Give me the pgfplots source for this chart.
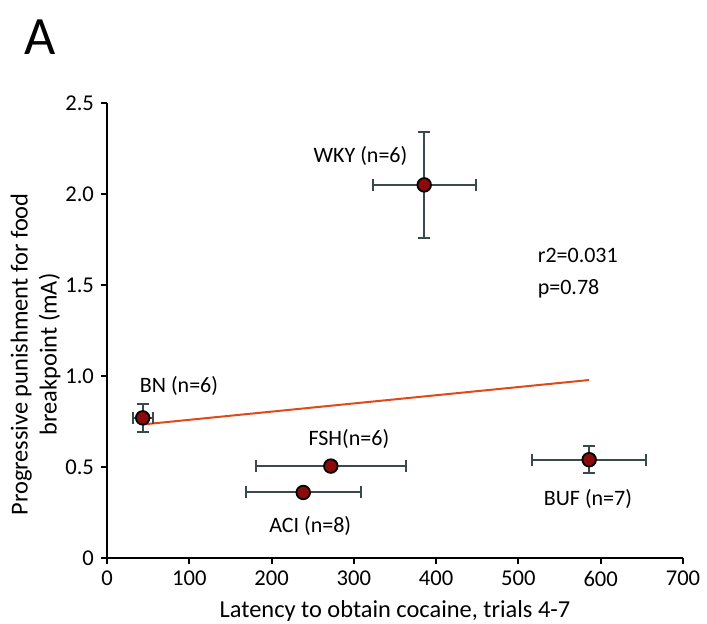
\documentclass[border=0pt]{standalone}
\usepackage{fontspec}
\setmainfont{Carlito}
\usepackage{pgfplots}
\pgfplotsset{compat=1.18}
\definecolor{ptred}{HTML}{8B0A0A}
\definecolor{errc}{HTML}{3A4A4A}
\definecolor{fitc}{HTML}{E04A1A}
\begin{document}
\begin{tikzpicture}
\begin{axis}[
  scale only axis, width=288pt, height=227.5pt,
  xmin=0, xmax=700, ymin=0, ymax=2.5,
  axis lines=left, axis line style={-, line width=1pt},
  xtick={0,100,200,300,400,500,600,700},
  xticklabels={0,100,200,300,400,500,600,700},
  ytick={0,0.5,1,1.5,2,2.5},
  yticklabels={0,0.5,1.0,1.5,2.0,2.5},
  tick align=outside, major tick length=3pt,
  tick style={line width=1pt, black},
  ticklabel style={font=\fontsize{11.3}{13}\selectfont},
  xlabel={Latency to obtain cocaine, trials 4-7},
  ylabel={Progressive punishment for food\\breakpoint (mA)},
  ylabel style={align=center, xshift=-12pt, yshift=-4.5pt},
  label style={font=\fontsize{12.2}{14.5}\selectfont},
  clip=false,
]
\addplot[fitc, line width=1pt] coordinates {(44,0.734) (586,0.978)};
\addplot[only marks, mark=*, mark size=3.4pt,
  mark options={fill=ptred, draw=black, line width=0.9pt},
  error bars/.cd, x dir=both, x explicit, y dir=both, y explicit,
  error mark=|,
  error bar style={errc, line width=1pt},
  error mark options={errc, line width=1pt, mark size=3pt}]
  coordinates {
  (43.4,0.77) +- (12,0.077)
  (385.5,2.05) +- (62.6,0.29)
  (272,0.505) +- (91,0.02)
  (238.5,0.36) +- (69.6,0.02)
  (586,0.54) +- (69.4,0.075)
  };
\node[font=\fontsize{11}{13}\selectfont] at (axis cs:308,2.21) {WKY (n=6)};
\node[font=\fontsize{11}{13}\selectfont] at (axis cs:87.5,0.945) {BN (n=6)};
\node[font=\fontsize{11}{13}\selectfont] at (axis cs:294,0.654) {FSH(n=6)};
\node[font=\fontsize{11}{13}\selectfont] at (axis cs:247,0.176) {ACI (n=8)};
\node[font=\fontsize{11}{13}\selectfont] at (axis cs:584.5,0.324) {BUF (n=7)};
\node[font=\fontsize{11}{13}\selectfont, anchor=west] at (axis cs:515,1.665) {r2=0.031};
\node[font=\fontsize{11}{13}\selectfont, anchor=west] at (axis cs:515,1.48) {p=0.78};
\end{axis}
\node[font=\fontsize{27}{30}\selectfont] at (-33.5pt,260.5pt) {A};
\pgfresetboundingbox
\useasboundingbox (-53.5pt,-33pt) rectangle (300pt,279pt);
\end{tikzpicture}
\end{document}
